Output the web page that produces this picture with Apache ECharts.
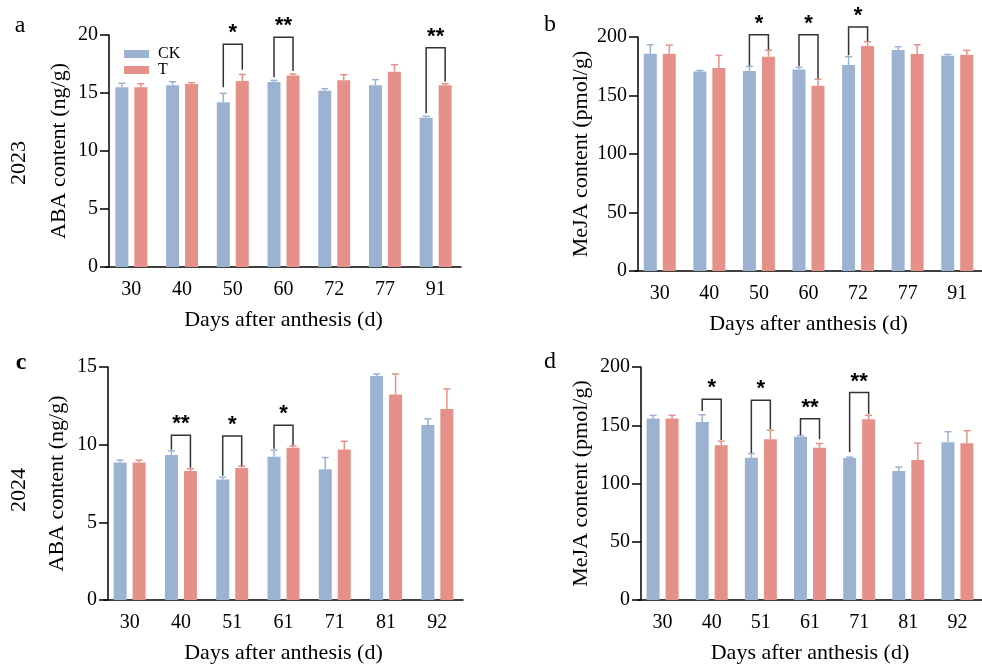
<!DOCTYPE html>
<html>
<head>
<meta charset="utf-8">
<script src="https://cdn.jsdelivr.net/npm/echarts@6/dist/echarts.min.js"></script>
<style>
  html, body { margin: 0; padding: 0; background: #fff; }
  #chart { width: 982px; height: 665px; }
</style>
</head>
<body>
<div id="chart"></div>
<script>
// categories (days after anthesis)
var days2023 = ['30', '40', '50', '60', '72', '77', '91']
var days2024 = ['30', '40', '51', '61', '71', '81', '92']

// a: ABA 2023 (ng/g)
var abaCK2023 = [15.49, 15.66, 14.2, 15.95, 15.2, 15.66, 12.87]
var abaCK2023Sd = [0.35, 0.31, 0.77, 0.14, 0.17, 0.49, 0.12]
var abaT2023 = [15.5, 15.78, 16.03, 16.5, 16.09, 16.84, 15.66]
var abaT2023Sd = [0.3, 0.11, 0.57, 0.14, 0.49, 0.6, 0.14]

// b: MeJA 2023 (pmol/g)
var mejaCK2023 = [185.7, 170.6, 170.9, 172.3, 176, 188.9, 184]
var mejaCK2023Sd = [7.7, 0.8, 4.0, 1.7, 7.2, 2.8, 1.1]
var mejaT2023 = [185.7, 173.5, 183.2, 158.3, 192.3, 185.4, 184.9]
var mejaT2023Sd = [7.3, 10.8, 5.4, 5.7, 3.7, 8.0, 3.7]

// c: ABA 2024 (ng/g)
var abaCK2024 = [8.85, 9.33, 7.75, 9.22, 8.41, 14.42, 11.27]
var abaCK2024Sd = [0.15, 0.27, 0.15, 0.43, 0.76, 0.13, 0.4]
var abaT2024 = [8.85, 8.3, 8.5, 9.8, 9.69, 13.23, 12.29]
var abaT2024Sd = [0.15, 0.15, 0.12, 0.12, 0.53, 1.32, 1.3]

// d: MeJA 2024 (pmol/g)
var mejaCK2024 = [155.9, 152.8, 122, 140.2, 121.8, 110.7, 135.4]
var mejaCK2024Sd = [2.6, 6.2, 3.7, 0.9, 0.8, 3.4, 9.1]
var mejaT2024 = [155.9, 132.9, 138, 130.6, 155.1, 120.1, 134.6]
var mejaT2024Sd = [2.6, 3.4, 7.7, 3.7, 3.4, 14.5, 10.7]

// significance brackets: [category index, bracket top, left leg end, right leg end, mark]
var sigA = [[2, 19.2, 15.5, 17.0, '*'], [3, 19.8, 16.35, 16.9, '**'], [6, 18.9, 13.25, 16.0, '**']]
var sigB = [[2, 202, 175.5, 189.2, '*'], [3, 202, 174.9, 164.6, '*'], [4, 208.6, 184.3, 196.6, '*']]
var sigC = [[1, 10.61, 9.67, 8.51, '**'], [2, 10.56, 8.0, 8.64, '*'], [3, 11.25, 9.73, 9.97, '*']]
var sigD = [[1, 172.4, 162.2, 137.4, '*'], [2, 171.5, 126.1, 146.5, '*'], [3, 155.6, 141.7, 138, '**'], [4, 178.1, 126.9, 159.6, '**']]

var CK_COLOR = '#9bb2d3'
var T_COLOR = '#e5918a'
var SERIF = 'Liberation Serif'
var SHIFT = 9.5 // half distance between CK and T bar centres

var chart = echarts.init(document.getElementById('chart'))

var grids = [
  { left: 106, top: 35, width: 355, height: 232 },
  { left: 635, top: 37, width: 358, height: 234 },
  { left: 104, top: 367, width: 359, height: 234 },
  { left: 638, top: 367, width: 358, height: 234 }
]

var xAxes = []
var yAxes = []
var series = []

function errSeries(idx, means, sds, color, dx) {
  return {
    type: 'custom',
    xAxisIndex: idx,
    yAxisIndex: idx,
    z: 3,
    silent: true,
    data: means.map(function(m, i) { return [i, m, sds[i]] }),
    renderItem: function(params, api) {
      var base = api.coord([api.value(0), api.value(1)])
      var top = api.coord([api.value(0), api.value(1) + api.value(2)])
      var x = base[0] + dx
      var st = { stroke: color, lineWidth: 1.5 }
      return {
        type: 'group',
        children: [
          { type: 'line', shape: { x1: x, y1: base[1], x2: x, y2: top[1] }, style: st },
          { type: 'line', shape: { x1: x - 3.5, y1: top[1], x2: x + 3.5, y2: top[1] }, style: st }
        ]
      }
    }
  }
}

function sigSeries(idx, sig) {
  return {
    type: 'custom',
    xAxisIndex: idx,
    yAxisIndex: idx,
    z: 4,
    silent: true,
    clip: false,
    data: sig,
    renderItem: function(params, api) {
      var i = api.value(0)
      var topY = api.coord([i, api.value(1)])
      var l = api.coord([i, api.value(2)])
      var r = api.coord([i, api.value(3)])
      var xl = topY[0] - SHIFT
      var xr = topY[0] + SHIFT
      return {
        type: 'group',
        children: [
          {
            type: 'polyline',
            shape: { points: [[xl, l[1]], [xl, topY[1]], [xr, topY[1]], [xr, r[1]]] },
            style: { stroke: '#333', lineWidth: 1.5, fill: null }
          },
          {
            type: 'text',
            x: topY[0],
            y: topY[1] - 11,
            style: {
              text: sig[params.dataIndex][4],
              font: 'bold 22px "Liberation Sans"',
              fill: '#000',
              align: 'center',
              verticalAlign: 'middle'
            }
          }
        ]
      }
    }
  }
}

function panel(idx, cats, ck, ckSd, t, tSd, sig, max, interval, yName, yOffset, yGap) {
  xAxes.push({
    type: 'category',
    gridIndex: idx,
    data: cats,
    axisLine: { lineStyle: { color: '#000', width: 1.5 } },
    axisTick: { alignWithLabel: true, length: 9, lineStyle: { color: '#000', width: 1.5 } },
    axisLabel: { color: '#000', fontFamily: SERIF, fontSize: 20, margin: 13 },
    name: 'Days after anthesis (d)',
    nameLocation: 'middle',
    nameGap: 42,
    nameTextStyle: { color: '#000', fontFamily: SERIF, fontSize: 22 }
  })
  yAxes.push({
    type: 'value',
    gridIndex: idx,
    min: 0,
    max: max,
    interval: interval,
    offset: yOffset,
    splitLine: { show: false },
    axisLine: { show: true, lineStyle: { color: '#000', width: 1.5 } },
    axisTick: { show: true, length: 9, lineStyle: { color: '#000', width: 1.5 } },
    axisLabel: { color: '#000', fontFamily: SERIF, fontSize: 20, margin: 11 },
    name: yName,
    nameLocation: 'middle',
    nameGap: yGap,
    nameTextStyle: { color: '#000', fontFamily: SERIF, fontSize: 22 }
  })
  series.push({
    name: 'CK', type: 'bar', xAxisIndex: idx, yAxisIndex: idx,
    data: ck, barWidth: 13, barGap: '46%', itemStyle: { color: CK_COLOR }
  })
  series.push({
    name: 'T', type: 'bar', xAxisIndex: idx, yAxisIndex: idx,
    data: t, barWidth: 13, barGap: '46%', itemStyle: { color: T_COLOR }
  })
  series.push(errSeries(idx, ck, ckSd, CK_COLOR, -SHIFT))
  series.push(errSeries(idx, t, tSd, T_COLOR, SHIFT))
  series.push(sigSeries(idx, sig))
}

panel(0, days2023, abaCK2023, abaCK2023Sd, abaT2023, abaT2023Sd, sigA, 20, 5, 'ABA content (ng/g)', -3, 39)
panel(1, days2023, mejaCK2023, mejaCK2023Sd, mejaT2023, mejaT2023Sd, sigB, 200, 50, 'MeJA content (pmol/g)', -3, 46)
panel(2, days2024, abaCK2024, abaCK2024Sd, abaT2024, abaT2024Sd, sigC, 15, 5, 'ABA content (ng/g)', -4, 40)
panel(3, days2024, mejaCK2024, mejaCK2024Sd, mejaT2024, mejaT2024Sd, sigD, 200, 50, 'MeJA content (pmol/g)', -3, 49)

function label(text, x, y, size, rot, weight) {
  return {
    type: 'text',
    x: x,
    y: y,
    rotation: rot || 0,
    style: {
      text: text,
      font: (weight || 'normal') + ' ' + size + 'px "Liberation Serif"',
      fill: '#000',
      align: 'center',
      verticalAlign: 'middle'
    }
  }
}

chart.setOption({
  animation: false,
  grid: grids,
  xAxis: xAxes,
  yAxis: yAxes,
  legend: {
    data: ['CK', 'T'],
    orient: 'vertical',
    left: 119,
    top: 41,
    icon: 'rect',
    itemWidth: 25,
    itemHeight: 8,
    itemGap: 0,
    textStyle: { fontFamily: SERIF, fontSize: 16, lineHeight: 15, color: '#000', padding: [0, 0, 0, 4] }
  },
  graphic: [
    label('a', 20, 26, 24),
    label('b', 550, 25, 24),
    label('c', 21, 363, 24, 0, 'bold'),
    label('d', 550, 362, 24),
    label('2023', 19, 163, 22, Math.PI / 2),
    label('2024', 19, 490, 22, Math.PI / 2)
  ],
  series: series
})
</script>
</body>
</html>
